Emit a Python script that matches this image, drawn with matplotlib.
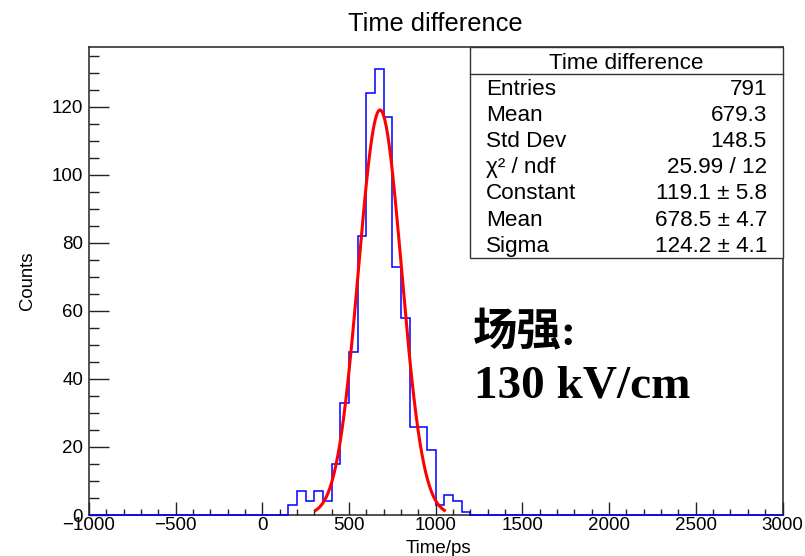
import numpy as np
import matplotlib
matplotlib.use("Agg")
import matplotlib.pyplot as plt
from matplotlib.patches import Rectangle
from matplotlib.lines import Line2D
from matplotlib.ticker import MultipleLocator

# ---------------- data ----------------
hist_range = (-1000, 3000)
bin_width = 50
first_filled_bin = 150          # left edge of the first non-empty bin
counts_filled = [3, 7, 4, 7, 4, 15, 33, 48, 82, 124, 131, 117, 73, 58,
                 26, 26, 19, 3, 6, 4, 1]

fit_constant = 119.1
fit_mean = 678.5
fit_sigma = 124.2
fit_range = (308, 1050)

stats_title = "Time difference"
stats_labels = ["Entries", "Mean", "Std Dev", "χ² / ndf", "Constant", "Mean", "Sigma"]
stats_values = ["791", "679.3", "148.5", "25.99 / 12", "119.1 ± 5.8",
                "678.5 ± 4.7", "124.2 ± 4.1"]

title = "Time difference"
xlabel = "Time/ps"
ylabel = "Counts"
annot_line1 = "场强:"
annot_line2 = "130 kV/cm"

# ---------------- figure ----------------
W, H = 805, 556
fig = plt.figure(figsize=(W / 100, H / 100), dpi=100)
fig.patch.set_facecolor("white")

def fx(x):
    return x / W

def fy(y):
    return 1 - y / H

L, R, T, B = 89, 782.5, 47, 515
ax = fig.add_axes([fx(L), fy(B), fx(R) - fx(L), fy(T) - fy(B)])

edges = np.arange(hist_range[0], hist_range[1] + bin_width, bin_width)
counts = np.zeros(len(edges) - 1)
i0 = int((first_filled_bin - hist_range[0]) / bin_width)
counts[i0:i0 + len(counts_filled)] = counts_filled

ax.stairs(counts, edges, color="#0000ff", lw=1.1, zorder=3, clip_on=False)

xf = np.linspace(fit_range[0], fit_range[1], 200)
yf = fit_constant * np.exp(-0.5 * ((xf - fit_mean) / fit_sigma) ** 2)
ax.plot(xf, yf, color="#ff0000", lw=2.2, zorder=4)

ax.set_xlim(*hist_range)
ax.set_ylim(0, 137.6)

tick_font = "Liberation Sans"
ax.xaxis.set_major_locator(MultipleLocator(500))
ax.xaxis.set_minor_locator(MultipleLocator(100))
ax.yaxis.set_major_locator(MultipleLocator(20))
ax.yaxis.set_minor_locator(MultipleLocator(5))
ax.tick_params(axis="x", which="major", direction="in", length=9.4, width=1.0,
               pad=1.5, labelsize=13.5, top=False, color="#222222")
ax.tick_params(axis="x", which="minor", direction="in", length=4.5, width=1.0,
               top=False, color="#222222")
ax.tick_params(axis="y", which="major", direction="in", length=14.5, width=1.0,
               pad=4.3, labelsize=13.5, right=False, color="#222222")
ax.tick_params(axis="y", which="minor", direction="in", length=7.5, width=1.0,
               right=False, color="#222222")
for lab in ax.get_xticklabels() + ax.get_yticklabels():
    lab.set_fontfamily(tick_font)
for sp in ax.spines.values():
    sp.set_linewidth(1.1)
    sp.set_color("#222222")

# titles / axis labels
fig.text(fx(435.5), fy(31), title, ha="center", va="baseline",
         fontsize=18.3, family=tick_font)
fig.text(fx(438), fy(553), xlabel, ha="center", va="baseline",
         fontsize=13.5, family=tick_font)
fig.text(fx(27.5), fy(280.5), ylabel, ha="center", va="center", rotation=90,
         fontsize=13.3, family=tick_font)

# stats box
bx0, bx1, by0, by1, hline = 470, 782.5, 47, 258, 73.5
fig.patches.append(Rectangle((fx(bx0), fy(by1)), fx(bx1) - fx(bx0), fy(by0) - fy(by1),
                             transform=fig.transFigure, facecolor="white",
                             edgecolor="#333333", lw=1.0, zorder=5))
fig.lines.append(Line2D([fx(bx0), fx(bx1)], [fy(hline), fy(hline)],
                        transform=fig.transFigure, color="#333333", lw=1.0, zorder=6))
fig.text(fx((bx0 + bx1) / 2), fy(69.3), stats_title, ha="center", va="baseline",
         fontsize=16.2, family=tick_font, zorder=7)
for k, (lab, val) in enumerate(zip(stats_labels, stats_values)):
    yb = 95 + 26.1 * k
    fig.text(fx(486), fy(yb), lab, ha="left", va="baseline", fontsize=16.2,
             family=[tick_font, "DejaVu Sans"], zorder=7)
    fig.text(fx(767), fy(yb), val, ha="right", va="baseline", fontsize=16.2,
             family=[tick_font, "DejaVu Sans"], zorder=7)

# annotation
fig.text(fx(473), fy(345), annot_line1, ha="left", va="baseline", fontsize=32,
         family=["Liberation Serif", "Noto Sans CJK SC"], fontweight="bold")
fig.text(fx(474), fy(397), annot_line2, ha="left", va="baseline", fontsize=34,
         family="Liberation Serif", fontweight="bold")

fig.savefig("out.png", dpi=100)
